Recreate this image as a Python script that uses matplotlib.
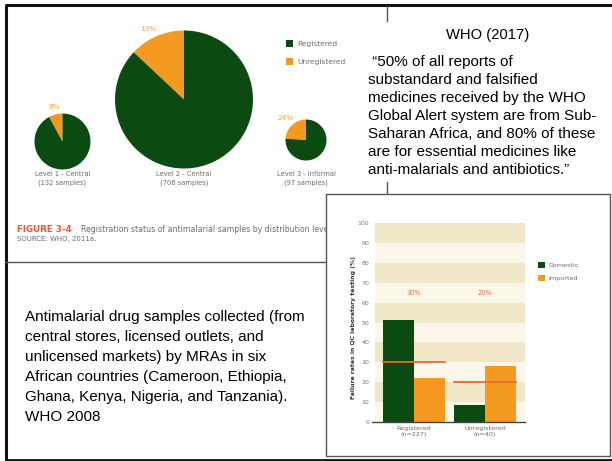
import matplotlib
matplotlib.use("Agg")
import matplotlib.pyplot as plt
from matplotlib.patches import Rectangle
import numpy as np

# ---------------- data ----------------
pie_levels = ["Level 1 - Central", "Level 2 - Central", "Level 3 - Informal"]
pie_samples = ["(132 samples)", "(706 samples)", "(97 samples)"]
pie_unregistered = [8, 13, 24]          # % unregistered
pie_series = ["Registered", "Unregistered"]

bar_groups = ["Registered\n(n=227)", "Unregistered\n(n=40)"]
bar_series = ["Domestic", "Imported"]
domestic = [51.5, 8.5]
imported = [22, 28]
overall_rate = [30, 20]
bar_yticks = [0, 10, 20, 30, 40, 50, 60, 70, 80, 90, 100]

quote_title = "WHO (2017)"
quote_lines = [" \u201c50% of all reports of",
               "substandard and falsified",
               "medicines received by the WHO",
               "Global Alert system are from Sub-",
               "Saharan Africa, and 80% of these",
               "are for essential medicines like",
               "anti-malarials and antibiotics.\u201d"]
note_lines = ["Antimalarial drug samples collected (from",
              "central stores, licensed outlets, and",
              "unlicensed markets) by MRAs in six",
              "African countries (Cameroon, Ethiopia,",
              "Ghana, Kenya, Nigeria, and Tanzania).",
              "WHO 2008"]

# ---------------- styles ----------------
W, H = 612, 461
GREEN = "#0b4b12"
ORANGE = "#f49a20"
LBL_OR = "#f0a448"
RED = "#ea6a3c"
GRAY_TXT = "#6d6d6d"
SLIDE_FONT = "Liberation Sans"
SMALL_FONT = "DejaVu Sans"

def Y(y):
    return H - y

fig = plt.figure(figsize=(W / 100, H / 100), dpi=100)
ax = fig.add_axes([0, 0, 1, 1])

# ---- pies ----
pie_geom = [(62.5, 141.5, 28), (184, 99.5, 69), (306, 140, 20.5)]
pie_lbl = [(54, 107), (148, 29), (286, 118)]
wedges_keep = None
for i, (cx, cy, r) in enumerate(pie_geom):
    u = pie_unregistered[i]
    w, _ = ax.pie([u, 100 - u], colors=[ORANGE, GREEN], startangle=90,
                  counterclock=True, center=(cx, Y(cy)), radius=r, frame=True,
                  wedgeprops=dict(linewidth=0))
    if wedges_keep is None:
        wedges_keep = w
    ax.text(pie_lbl[i][0], Y(pie_lbl[i][1]), f"{u}%", color=LBL_OR,
            fontsize=5.2, family=SMALL_FONT, ha="center", va="center")
    ax.text(cx, Y(174), pie_levels[i], color=GRAY_TXT, fontsize=4.9,
            family=SMALL_FONT, ha="center", va="center")
    ax.text(cx, Y(182.5), pie_samples[i], color=GRAY_TXT, fontsize=4.9,
            family=SMALL_FONT, ha="center", va="center")

ax.set_xlim(0, W)
ax.set_ylim(0, H)
ax.set_aspect("auto")
ax.axis("off")

# pie legend (wedge handles: registered=green, unregistered=orange)
ax.legend([wedges_keep[1], wedges_keep[0]], pie_series,
          loc="upper left", bbox_to_anchor=(286 / W, Y(40.5) / H),
          bbox_transform=fig.transFigure, frameon=False,
          prop=dict(family=SMALL_FONT, size=5.4), labelcolor=GRAY_TXT,
          handlelength=0.95, handleheight=0.95, handletextpad=0.55,
          labelspacing=1.45, borderpad=0, borderaxespad=0)

# caption
ax.text(17, Y(229), "FIGURE 3-4", color="#e8563a", fontsize=6.3,
        family=SMALL_FONT, fontweight="bold", ha="left", va="center")
ax.text(81, Y(229), "Registration status of antimalarial samples by distribution level",
        color=GRAY_TXT, fontsize=5.6, family=SMALL_FONT, ha="left", va="center")
ax.text(17, Y(239), "SOURCE: WHO, 2011a.", color=GRAY_TXT, fontsize=5.0,
        family=SMALL_FONT, ha="left", va="center")

# ---- slide frame and panel lines ----
ax.plot([5, 612], [Y(5.5), Y(5.5)], color="#111111", lw=2.2, solid_capstyle="butt")
ax.plot([5.5, 5.5], [Y(5), Y(459.5)], color="#111111", lw=2.2, solid_capstyle="butt")
ax.plot([5, 612], [Y(459.5), Y(459.5)], color="#111111", lw=2.0, solid_capstyle="butt")
ax.plot([5, 325], [Y(262.5), Y(262.5)], color="#555555", lw=1.0)
ax.plot([387, 387], [Y(6), Y(21)], color="#555555", lw=1.0)
ax.plot([387, 387], [Y(182), Y(194)], color="#555555", lw=1.0)

# bar panel (white, covers caption overflow)
ax.add_patch(Rectangle((325.5, Y(456)), 284, 262, facecolor="white",
                       edgecolor="#555555", lw=1.0, zorder=5))

# quote text box
ax.text(488, Y(39.5), quote_title, family=SLIDE_FONT, fontsize=10.6, color="black",
        ha="center", va="baseline")
for k, line in enumerate(quote_lines):
    ax.text(368, Y(66 + 18 * k), line, family=SLIDE_FONT, fontsize=11,
            color="black", ha="left", va="baseline")

# note text box
for k, line in enumerate(note_lines):
    ax.text(25, Y(321 + 20 * k), line, family=SLIDE_FONT, fontsize=10.95,
            color="black", ha="left", va="baseline")

# ---- bar chart ----
y0, y100 = 421.7, 223.3
bx = fig.add_axes([375 / W, Y(y0) / H, 150 / W, (y0 - y100) / H])
bx.set_facecolor("none")
for k in range(0, 100, 10):
    bx.axhspan(k, k + 10, color="#f0e6c8" if (k // 10) % 2 == 1 else "#faf6e8",
               lw=0, zorder=0)
x = np.arange(len(bar_groups))
bw = 0.44
b1 = bx.bar(x - bw / 2, domestic, bw, color=GREEN, label=bar_series[0], zorder=2)
b2 = bx.bar(x + bw / 2, imported, bw, color=ORANGE, label=bar_series[1], zorder=2)
for i, v in enumerate(overall_rate):
    bx.plot([x[i] - 0.44, x[i] + 0.44], [v, v], color=RED, lw=1.3, zorder=3)
    bx.text(x[i], 65, f"{v}%", color=RED, fontsize=4.8, family=SMALL_FONT,
            ha="center", va="center")
bx.set_xlim(-0.549, 1.563)
bx.set_ylim(0, 100)
bx.set_yticks(bar_yticks)
bx.set_xticks(x)
bx.set_xticklabels(bar_groups, fontsize=4.6, family=SMALL_FONT, color=GRAY_TXT,
                   linespacing=1.3)
for t in bx.get_yticklabels():
    t.set_fontsize(4.5)
    t.set_family(SMALL_FONT)
    t.set_color("#7a7a7a")
bx.tick_params(axis="both", length=0)
bx.tick_params(axis="y", pad=4)
bx.tick_params(axis="x", pad=3)
for s in ["top", "right", "left"]:
    bx.spines[s].set_visible(False)
bx.spines["bottom"].set_color("#444444")
bx.spines["bottom"].set_linewidth(1.0)
bx.spines["bottom"].set_bounds(-0.59, 1.563)
bx.set_ylabel("Failure rates in QC laboratory testing (%)", fontsize=4.4,
              family=SMALL_FONT, fontweight="bold", color="#333333")
bx.yaxis.set_label_coords(-0.125, 0.477)
bx.legend(handles=[b1, b2], loc="upper left",
          bbox_to_anchor=(538 / W, Y(262) / H), bbox_transform=fig.transFigure,
          frameon=False, prop=dict(family=SMALL_FONT, size=4.6),
          labelcolor=GRAY_TXT, handlelength=1.1, handleheight=1.1,
          handletextpad=0.5, labelspacing=1.0, borderpad=0, borderaxespad=0)

fig.savefig("out.png", dpi=100)
